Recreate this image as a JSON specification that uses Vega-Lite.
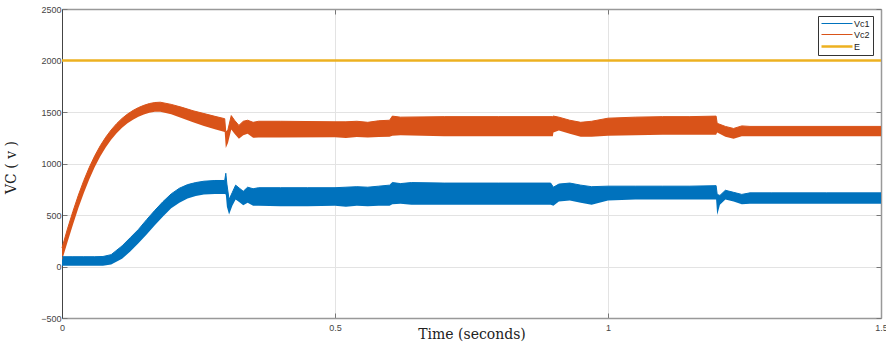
{
  "$schema": "https://vega.github.io/schema/vega-lite/v6.json",
  "width": 819,
  "height": 309,
  "autosize": {"type": "none"},
  "padding": {"left": 62, "top": 9, "right": 5, "bottom": 25},
  "background": "white",
  "config": {
    "view": {"stroke": null},
    "axis": {"labelFont": "Liberation Sans", "labelFontSize": 9, "labelColor": "#444", "titleFont": "DejaVu Serif", "titleFontWeight": "normal", "titleFontSize": 14, "titleColor": "#222", "gridColor": "#e3e3e3", "gridWidth": 1, "tickColor": "#777", "domainColor": "#999", "domainWidth": 1.5}
  },
  "data": {"values": [
    {"t": 0, "series": "Vc1", "lo": 8, "hi": 95},
    {"t": 0.02, "series": "Vc1", "lo": 8, "hi": 95},
    {"t": 0.04, "series": "Vc1", "lo": 8, "hi": 95},
    {"t": 0.06, "series": "Vc1", "lo": 8, "hi": 95},
    {"t": 0.075, "series": "Vc1", "lo": 8, "hi": 97},
    {"t": 0.09, "series": "Vc1", "lo": 20, "hi": 115},
    {"t": 0.11, "series": "Vc1", "lo": 75, "hi": 200},
    {"t": 0.125, "series": "Vc1", "lo": 145, "hi": 280},
    {"t": 0.14, "series": "Vc1", "lo": 225, "hi": 360},
    {"t": 0.155, "series": "Vc1", "lo": 310, "hi": 455},
    {"t": 0.17, "series": "Vc1", "lo": 400, "hi": 545},
    {"t": 0.185, "series": "Vc1", "lo": 485, "hi": 630},
    {"t": 0.2, "series": "Vc1", "lo": 565, "hi": 705},
    {"t": 0.215, "series": "Vc1", "lo": 620, "hi": 760},
    {"t": 0.23, "series": "Vc1", "lo": 660, "hi": 795},
    {"t": 0.245, "series": "Vc1", "lo": 685, "hi": 815},
    {"t": 0.26, "series": "Vc1", "lo": 700, "hi": 828},
    {"t": 0.28, "series": "Vc1", "lo": 705, "hi": 835},
    {"t": 0.298, "series": "Vc1", "lo": 705, "hi": 835},
    {"t": 0.3, "series": "Vc1", "lo": 700, "hi": 905},
    {"t": 0.302, "series": "Vc1", "lo": 580, "hi": 800},
    {"t": 0.306, "series": "Vc1", "lo": 505, "hi": 650},
    {"t": 0.312, "series": "Vc1", "lo": 590, "hi": 720},
    {"t": 0.318, "series": "Vc1", "lo": 650, "hi": 790},
    {"t": 0.325, "series": "Vc1", "lo": 625, "hi": 760},
    {"t": 0.332, "series": "Vc1", "lo": 595, "hi": 730},
    {"t": 0.34, "series": "Vc1", "lo": 620, "hi": 770},
    {"t": 0.35, "series": "Vc1", "lo": 590, "hi": 755},
    {"t": 0.36, "series": "Vc1", "lo": 590, "hi": 765},
    {"t": 0.4, "series": "Vc1", "lo": 585, "hi": 765},
    {"t": 0.45, "series": "Vc1", "lo": 585, "hi": 765},
    {"t": 0.5, "series": "Vc1", "lo": 590, "hi": 765},
    {"t": 0.52, "series": "Vc1", "lo": 580, "hi": 770},
    {"t": 0.54, "series": "Vc1", "lo": 590, "hi": 775},
    {"t": 0.56, "series": "Vc1", "lo": 585, "hi": 770},
    {"t": 0.58, "series": "Vc1", "lo": 590, "hi": 780},
    {"t": 0.6, "series": "Vc1", "lo": 590, "hi": 790},
    {"t": 0.605, "series": "Vc1", "lo": 605, "hi": 815},
    {"t": 0.62, "series": "Vc1", "lo": 610, "hi": 805},
    {"t": 0.64, "series": "Vc1", "lo": 600, "hi": 815},
    {"t": 0.7, "series": "Vc1", "lo": 600, "hi": 810},
    {"t": 0.8, "series": "Vc1", "lo": 600, "hi": 810},
    {"t": 0.895, "series": "Vc1", "lo": 600, "hi": 810},
    {"t": 0.9, "series": "Vc1", "lo": 590, "hi": 770},
    {"t": 0.91, "series": "Vc1", "lo": 630, "hi": 800},
    {"t": 0.93, "series": "Vc1", "lo": 640, "hi": 810},
    {"t": 0.95, "series": "Vc1", "lo": 620, "hi": 790},
    {"t": 0.97, "series": "Vc1", "lo": 600, "hi": 775},
    {"t": 1.0, "series": "Vc1", "lo": 640, "hi": 780},
    {"t": 1.05, "series": "Vc1", "lo": 650, "hi": 780},
    {"t": 1.1, "series": "Vc1", "lo": 650, "hi": 780},
    {"t": 1.15, "series": "Vc1", "lo": 650, "hi": 780},
    {"t": 1.198, "series": "Vc1", "lo": 650, "hi": 785},
    {"t": 1.2, "series": "Vc1", "lo": 500, "hi": 700},
    {"t": 1.205, "series": "Vc1", "lo": 600, "hi": 690},
    {"t": 1.215, "series": "Vc1", "lo": 650, "hi": 740},
    {"t": 1.23, "series": "Vc1", "lo": 630, "hi": 720},
    {"t": 1.245, "series": "Vc1", "lo": 605, "hi": 700},
    {"t": 1.26, "series": "Vc1", "lo": 610, "hi": 715},
    {"t": 1.3, "series": "Vc1", "lo": 610, "hi": 715},
    {"t": 1.4, "series": "Vc1", "lo": 610, "hi": 715},
    {"t": 1.5, "series": "Vc1", "lo": 610, "hi": 715},
    {"t": 0, "series": "Vc2", "lo": 60, "hi": 180},
    {"t": 0.01, "series": "Vc2", "lo": 235, "hi": 365},
    {"t": 0.02, "series": "Vc2", "lo": 405, "hi": 535},
    {"t": 0.03, "series": "Vc2", "lo": 567, "hi": 693},
    {"t": 0.04, "series": "Vc2", "lo": 714, "hi": 836},
    {"t": 0.05, "series": "Vc2", "lo": 847, "hi": 963},
    {"t": 0.06, "series": "Vc2", "lo": 965, "hi": 1075},
    {"t": 0.07, "series": "Vc2", "lo": 1068, "hi": 1172},
    {"t": 0.08, "series": "Vc2", "lo": 1155, "hi": 1255},
    {"t": 0.09, "series": "Vc2", "lo": 1230, "hi": 1326},
    {"t": 0.1, "series": "Vc2", "lo": 1293, "hi": 1387},
    {"t": 0.11, "series": "Vc2", "lo": 1346, "hi": 1438},
    {"t": 0.12, "series": "Vc2", "lo": 1390, "hi": 1480},
    {"t": 0.13, "series": "Vc2", "lo": 1425, "hi": 1515},
    {"t": 0.14, "series": "Vc2", "lo": 1453, "hi": 1543},
    {"t": 0.15, "series": "Vc2", "lo": 1475, "hi": 1565},
    {"t": 0.16, "series": "Vc2", "lo": 1492, "hi": 1582},
    {"t": 0.17, "series": "Vc2", "lo": 1502, "hi": 1592},
    {"t": 0.18, "series": "Vc2", "lo": 1503, "hi": 1595},
    {"t": 0.2, "series": "Vc2", "lo": 1478, "hi": 1574},
    {"t": 0.22, "series": "Vc2", "lo": 1440, "hi": 1545},
    {"t": 0.24, "series": "Vc2", "lo": 1400, "hi": 1512},
    {"t": 0.26, "series": "Vc2", "lo": 1365, "hi": 1485},
    {"t": 0.28, "series": "Vc2", "lo": 1332, "hi": 1458},
    {"t": 0.298, "series": "Vc2", "lo": 1305, "hi": 1435},
    {"t": 0.3, "series": "Vc2", "lo": 1150, "hi": 1300},
    {"t": 0.304, "series": "Vc2", "lo": 1200, "hi": 1330},
    {"t": 0.31, "series": "Vc2", "lo": 1330, "hi": 1465},
    {"t": 0.316, "series": "Vc2", "lo": 1290, "hi": 1420},
    {"t": 0.324, "series": "Vc2", "lo": 1240, "hi": 1370},
    {"t": 0.332, "series": "Vc2", "lo": 1275, "hi": 1410},
    {"t": 0.34, "series": "Vc2", "lo": 1290, "hi": 1420},
    {"t": 0.35, "series": "Vc2", "lo": 1250, "hi": 1400},
    {"t": 0.36, "series": "Vc2", "lo": 1252, "hi": 1410},
    {"t": 0.4, "series": "Vc2", "lo": 1252, "hi": 1410},
    {"t": 0.5, "series": "Vc2", "lo": 1255, "hi": 1405},
    {"t": 0.52, "series": "Vc2", "lo": 1248, "hi": 1405},
    {"t": 0.54, "series": "Vc2", "lo": 1258, "hi": 1410},
    {"t": 0.56, "series": "Vc2", "lo": 1252, "hi": 1400},
    {"t": 0.58, "series": "Vc2", "lo": 1258, "hi": 1415},
    {"t": 0.6, "series": "Vc2", "lo": 1260, "hi": 1420},
    {"t": 0.605, "series": "Vc2", "lo": 1270, "hi": 1460},
    {"t": 0.62, "series": "Vc2", "lo": 1275, "hi": 1450},
    {"t": 0.7, "series": "Vc2", "lo": 1265, "hi": 1455},
    {"t": 0.8, "series": "Vc2", "lo": 1265, "hi": 1455},
    {"t": 0.899, "series": "Vc2", "lo": 1265, "hi": 1455},
    {"t": 0.9, "series": "Vc2", "lo": 1300, "hi": 1460},
    {"t": 0.91, "series": "Vc2", "lo": 1320, "hi": 1450},
    {"t": 0.93, "series": "Vc2", "lo": 1290, "hi": 1420},
    {"t": 0.95, "series": "Vc2", "lo": 1260, "hi": 1400},
    {"t": 0.97, "series": "Vc2", "lo": 1260, "hi": 1410},
    {"t": 1.0, "series": "Vc2", "lo": 1270, "hi": 1440},
    {"t": 1.05, "series": "Vc2", "lo": 1275, "hi": 1450},
    {"t": 1.1, "series": "Vc2", "lo": 1280, "hi": 1455},
    {"t": 1.15, "series": "Vc2", "lo": 1280, "hi": 1455},
    {"t": 1.198, "series": "Vc2", "lo": 1280, "hi": 1460},
    {"t": 1.2, "series": "Vc2", "lo": 1300, "hi": 1390},
    {"t": 1.215, "series": "Vc2", "lo": 1260, "hi": 1360},
    {"t": 1.23, "series": "Vc2", "lo": 1240, "hi": 1340},
    {"t": 1.245, "series": "Vc2", "lo": 1265, "hi": 1365},
    {"t": 1.26, "series": "Vc2", "lo": 1265, "hi": 1360},
    {"t": 1.5, "series": "Vc2", "lo": 1265, "hi": 1360},
    {"t": 0, "series": "E", "lo": 2000, "hi": 2000},
    {"t": 1.5, "series": "E", "lo": 2000, "hi": 2000}
  ]},
  "resolve": {"axis": {"x": "independent", "y": "independent"}},
  "layer": [
    {
      "transform": [{"filter": "datum.series != 'E'"}],
      "mark": {"type": "area", "interpolate": "linear"},
      "encoding": {
        "x": {"field": "t", "type": "quantitative", "scale": {"domain": [0, 1.5], "nice": false, "zero": false},
          "axis": {"title": "Time (seconds)", "values": [0, 0.5, 1, 1.5], "format": "~g", "labelFlush": false, "grid": true, "tickSize": -5, "labelPadding": 10, "titleY": 16, "titleBaseline": "middle", "domainColor": "#999"}},
        "y": {"field": "lo", "type": "quantitative", "scale": {"domain": [-500, 2500], "nice": false, "zero": false},
          "axis": {"title": "VC ( v )", "values": [-500, 0, 500, 1000, 1500, 2000, 2500], "format": "d", "grid": true, "tickSize": -5, "labelPadding": 6, "titleX": -44, "titleY": 158, "domainColor": "#444", "domainWidth": 1}},
        "y2": {"field": "hi"},
        "color": {"field": "series", "type": "nominal", "title": null, "scale": {"domain": ["Vc1", "Vc2", "E"], "range": ["#0072BD", "#D95319", "#EDB120"]}}
      }
    },
    {
      "mark": {"type": "line", "interpolate": "linear"},
      "encoding": {
        "x": {"field": "t", "type": "quantitative", "axis": {"orient": "top", "labels": false, "title": null, "grid": false, "tickSize": -5, "values": [0, 0.5, 1, 1.5]}},
        "y": {"field": "hi", "type": "quantitative", "axis": {"orient": "right", "labels": false, "title": null, "grid": false, "tickSize": -5, "values": [-500, 0, 500, 1000, 1500, 2000, 2500]}},
        "strokeWidth": {"condition": {"test": "datum.series == 'E'", "value": 2.5}, "value": 1},
        "color": {"field": "series", "type": "nominal", "title": null, "scale": {"domain": ["Vc1", "Vc2", "E"], "range": ["#0072BD", "#D95319", "#EDB120"]},
          "legend": {"orient": "none", "legendX": 756, "legendY": 7, "symbolType": "stroke", "symbolSize": 100, "labelFont": "Liberation Sans", "labelFontSize": 9, "labelColor": "#222", "strokeColor": "#333", "fillColor": "white", "padding": 3, "rowPadding": 1, "labelOffset": 24,
            "encode": {"symbols": {"update": {"x": {"value": 16}, "size": {"value": 961}, "fill": {"value": "transparent"}, "stroke": {"signal": "datum.value === 'Vc1' ? '#7db9dc' : datum.value === 'Vc2' ? '#e8ab90' : '#EDB120'"}, "strokeWidth": {"signal": "datum.value === 'E' ? 2.5 : 1"}, "opacity": {"value": 1}}}}}}
      }
    }
  ]
}
